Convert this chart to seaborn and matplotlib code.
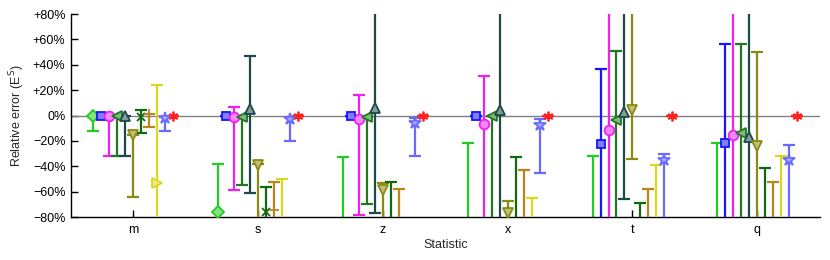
import numpy as np
import pandas as pd
import seaborn as sns
import matplotlib
matplotlib.use("Agg")
import matplotlib.pyplot as plt
from matplotlib.colors import to_rgb

sns.set_style("ticks")
plt.rcParams['font.family'] = ['Liberation Sans', 'DejaVu Sans']

categories = ['m', 's', 'z', 'x', 't', 'q']

# series: value, lower bound, upper bound (percent)
green_val = [0, -76, -90, -90, -90, -90]
green_low = [-12, -100, -100, -100, -100, -100]
green_up = [0, -38, -33, -21.5, -31.5, -21.5]

blue_val = [0, 0, 0, 0, -22.4, -21.8]
blue_low = [0, 0, 0, 0, -100, -100]
blue_up = [0, 0, 0, 0, 37, 56]

magenta_val = [0, -1, -3, -6.6, -11.6, -15.3]
magenta_low = [-32, -59, -78.5, -100, -100, -100]
magenta_up = [0, 7, 16, 31, 100, 100]

dgreen_val = [0, -1, -1, -0.5, -3.7, -13.4]
dgreen_low = [-32, -55, -70, -100, -100, -100]
dgreen_up = [0, -1, -1, -0.5, 51, 56.4]

slate_val = [0, 5, 6, 4, 3, -17]
slate_low = [-32, -61, -77, -100, -66, -100]
slate_up = [0, 47, 100, 100, 100, 100]

olive_val = [-15, -39, -59, -77, 4, -23.7]
olive_low = [-64, -100, -100, -100, -34, -100]
olive_up = [-15, -38, -53, -67, 100, 50]

xgreen_val = [-1, -76, -90, -90, -90, -90]
xgreen_low = [-14, -100, -100, -100, -100, -100]
xgreen_up = [4.4, -56, -52, -32.6, -69, -41]

ochre_val = [1, -74.5, -90, -90, -90, -90]
ochre_low = [-9, -100, -100, -100, -100, -100]
ochre_up = [1, -52, -58, -43, -58, -52]

yellow_val = [-53, -90, -95, -90, -90, -90]
yellow_low = [-100, -100, -100, -100, -100, -100]
yellow_up = [24, -50, -92, -65, -39, -32]

star_val = [-2, -3, -5.5, -7.6, -35, -35]
star_low = [-12, -20, -32, -45, -100, -100]
star_up = [-1, -1, -2, -3, -30, -23]

red_val = [0, 0, 0, 0, 0, 0]
red_low = [0, 0, 0, 0, 0, 0]
red_up = [0, 0, 0, 0, 0, 0]

series = [
    (green_val, green_low, green_up, '#22cc22', 'D', 6, True),
    (blue_val, blue_low, blue_up, '#1515ff', 's', 6, True),
    (magenta_val, magenta_low, magenta_up, '#ee22ee', 'o', 7, True),
    (dgreen_val, dgreen_low, dgreen_up, '#1f7a1f', '<', 7, True),
    (slate_val, slate_low, slate_up, '#1d4a47', '^', 7, True),
    (olive_val, olive_low, olive_up, '#8a8a12', 'v', 7, True),
    (xgreen_val, xgreen_low, xgreen_up, '#0f6a0f', 'x', 6, False),
    (ochre_val, ochre_low, ochre_up, '#b8861a', '+', 7, False),
    (yellow_val, yellow_low, yellow_up, '#d8d820', '>', 7, True),
    (star_val, star_low, star_up, '#6a6aff', '*', 9, True),
    (red_val, red_low, red_up, '#ff2020', (6, 2, 0), 7, False),
]

fig = plt.figure(figsize=(8.3, 2.6), dpi=100)
ax = fig.add_axes([0.0855, 0.165, 0.902, 0.781])

x = np.arange(1, len(categories) + 1)
ax.axhline(0, color='#808080', lw=1.0, zorder=1)

n = len(series)
for i, (val, low, up, col, mk, ms, filled) in enumerate(series):
    v = np.array(val, float)
    lo = np.array(low, float)
    hi = np.array(up, float)
    xs = x + (i - (n - 1) / 2) * 0.064
    face = tuple(0.55 * np.array(to_rgb(col)) + 0.45) if filled else col
    ax.errorbar(xs, v, yerr=[v - lo, hi - v], fmt='none', ecolor=col,
                elinewidth=1.6, capsize=4.5, capthick=1.6, zorder=2 + i)
    ax.plot(xs, v, linestyle='none', marker=mk, markersize=ms,
            markeredgecolor=col, markerfacecolor=face, markeredgewidth=1.3,
            zorder=20 + i)

ax.set_xlim(0.5, 6.5)
ax.set_ylim(-80, 80)
ax.set_xticks(x)
ax.set_xticklabels(categories)
yt = np.arange(-80, 81, 20)
ax.set_yticks(yt)
ax.set_yticklabels([('+%d%%' % t) if t > 0 else ('0%' if t == 0 else '\u2212%d%%' % -t) for t in yt])
ax.tick_params(direction='in', length=5, width=1, labelsize=9, colors='black')
ax.tick_params(axis='y', pad=4)
ax.tick_params(axis='x', pad=5)
for s in ['top', 'right']:
    ax.spines[s].set_visible(False)
for s in ['left', 'bottom']:
    ax.spines[s].set_linewidth(1)
    ax.spines[s].set_color('black')
ax.set_xlabel('Statistic', fontsize=9, labelpad=2)
ax.set_ylabel('Relative error (E$^{\\mathrm{S}}$)', fontsize=9, labelpad=4)

fig.savefig('out.png', dpi=100)
